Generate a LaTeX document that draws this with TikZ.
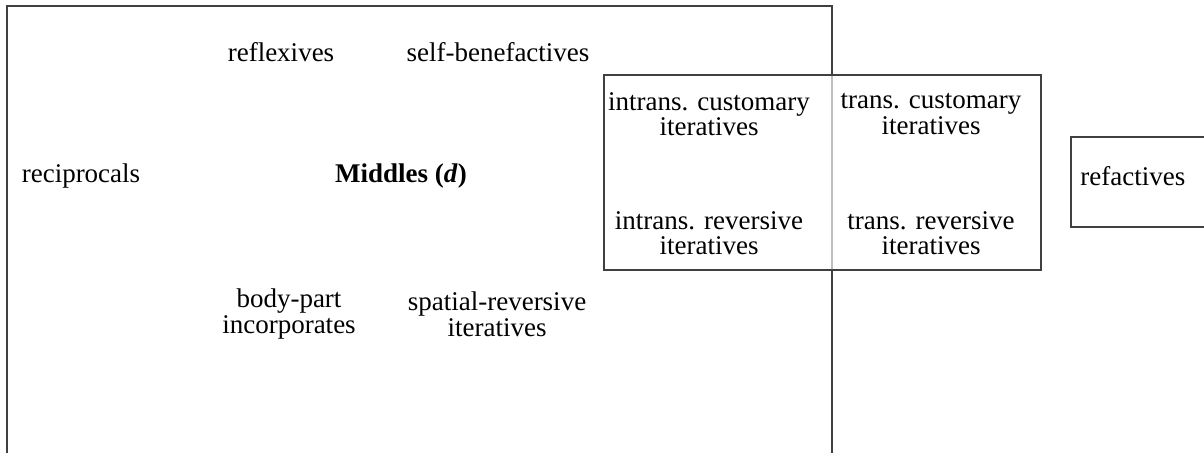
\documentclass[tikz,border=0pt]{standalone}
\usepackage{fontspec}
\setmainfont{Liberation Serif}
\tikzset{
  frame/.style={draw=black!75, line width=0.6pt},
  inner/.style={draw=black!25, line width=0.6pt},
  lbl/.style={font=\fontsize{13.5pt}{12.8pt}\selectfont, align=center, inner sep=0pt}
}
\begin{document}
\begin{tikzpicture}[x=0.5pt, y=-0.5pt]
        \useasboundingbox (0,0) rectangle (1204,453);
        % big box (middles), open at the bottom
        \draw[frame] (7,453) -- (7,6) -- (832,6) -- (832,75);
        \draw[frame] (832,270) -- (832,453);
        \draw[inner] (832,75) -- (832,270);
        % iteratives box
        \draw[frame] (604,75) rectangle (1041,270);
        % refactives box
        \draw[frame] (1204,137) -- (1071,137) -- (1071,227) -- (1204,227);
        \node[lbl] (refl) at (281,52) {reflexives};
        \node[lbl] (selfben) at (498,52) {self-benefactives};
        \node[lbl] (recip) at (81,176) {reciprocals};
        \node[lbl] (middles) at (401,176) {\textbf{Middles (\textit{d})}};
        \node[lbl] (bodypart) at (289,314) {body-part\\incorporates};
        \node[lbl] (spatrev) at (497,314) {spatial-reversive\\iteratives};
        \node[lbl] (intcust) at (709,114) {intrans. customary\\iteratives};
        \node[lbl] (trcust) at (931,114) {trans. customary\\iteratives};
        \node[lbl] (intrev) at (709,233) {intrans. reversive\\iteratives};
        \node[lbl] (trrev) at (931,233) {trans. reversive\\iteratives};
        \node[lbl, anchor=west] (refac) at (1080,176) {refactives};
    \end{tikzpicture}
\end{document}
